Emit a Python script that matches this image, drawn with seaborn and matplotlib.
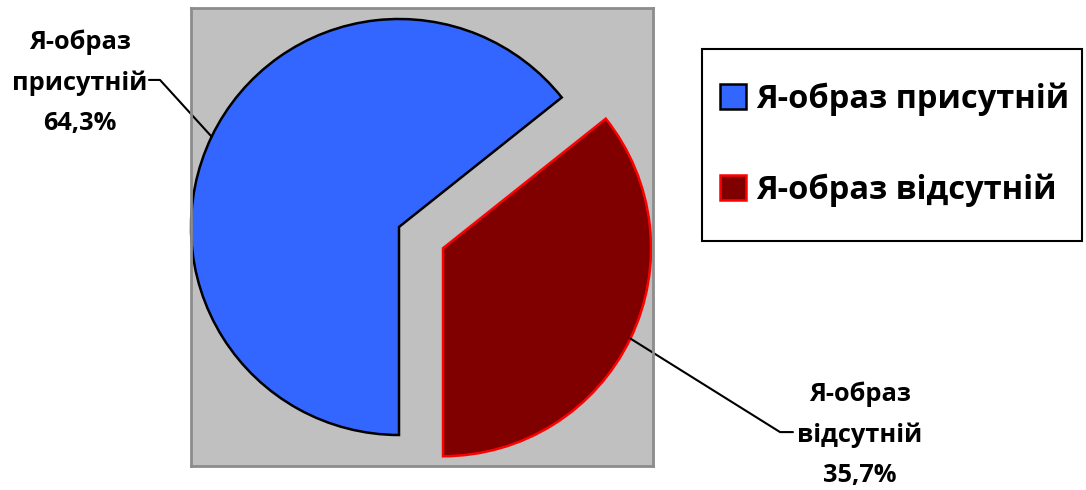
import matplotlib.pyplot as plt
import numpy as np
import seaborn as sns
from matplotlib.patches import Patch, Rectangle

# data
categories = ['Я-образ присутній', 'Я-образ відсутній']
shares = [64.3, 35.7]
label_texts = ['Я-образ\nприсутній\n64,3%', 'Я-образ\nвідсутній\n35,7%']

sns.set_style('white')
plt.rcParams['font.family'] = ['Open Sans', 'DejaVu Sans']
plt.rcParams['font.weight'] = 'bold'
plt.rcParams['text.color'] = 'black'

colors = sns.color_palette(['#3366FF', '#800000'])
edges = ['black', '#FF0000']

fig = plt.figure(figsize=(10.86, 4.9), dpi=100)
ax = fig.add_axes([191 / 1086, 24 / 490, 462 / 1086, 458 / 490])

wedges, _ = ax.pie(shares, colors=colors, startangle=-90, counterclock=False,
                   explode=[0, 0.235], radius=1, frame=True)
for w, ec in zip(wedges, edges):
    w.set_edgecolor(ec)
    w.set_linewidth(1.8)

ax.set_frame_on(True)
ax.set_facecolor('#C0C0C0')
for s in ax.spines.values():
    s.set_color('#8C8C8C')
    s.set_linewidth(2)
    s.set_visible(True)
ax.set_aspect('auto')
ax.set_xlim(-1, 254 / 208)
ax.set_ylim(-239 / 208, 219 / 208)
ax.set_xticks([])
ax.set_yticks([])

# leader lines + labels (positions of label text in data units of the pie)
elbows = [(-1.149, 0.707, -1.202), (1.832, -0.986, 1.894)]
text_pos = [(-1.534, 0.695), (2.216, -1.0)]
for w, lab, (ex, ey, sx), (tx, ty) in zip(wedges, label_texts, elbows, text_pos):
    ang = np.deg2rad((w.theta1 + w.theta2) / 2)
    cx, cy = w.center
    px, py = cx + w.r * np.cos(ang), cy + w.r * np.sin(ang)
    ax.plot([px, ex, sx], [py, ey, ey], color='black', lw=1.5, clip_on=False)
    ax.text(tx, ty, lab, ha='center', va='center', fontsize=18.3,
            fontweight='bold', linespacing=1.8, clip_on=False)

# legend box
fig.patches.append(Rectangle((702 / 1086, 1 - 241 / 490), 380 / 1086, 192 / 490,
                             transform=fig.transFigure, facecolor='white',
                             edgecolor='black', linewidth=1.5))
handles = [Patch(facecolor=c, edgecolor=ec, linewidth=1.8, label=l)
           for c, ec, l in zip(colors, edges, categories)]
leg = fig.legend(handles=handles, loc='center left',
                 bbox_to_anchor=(720 / 1086, 1 - 145 / 490),
                 prop=dict(size=23.5, weight='bold'), frameon=False,
                 handlelength=0.8, handleheight=0.8, handletextpad=0.3,
                 labelspacing=1.76, borderpad=0, borderaxespad=0)

fig.savefig('out.png', dpi=100)
